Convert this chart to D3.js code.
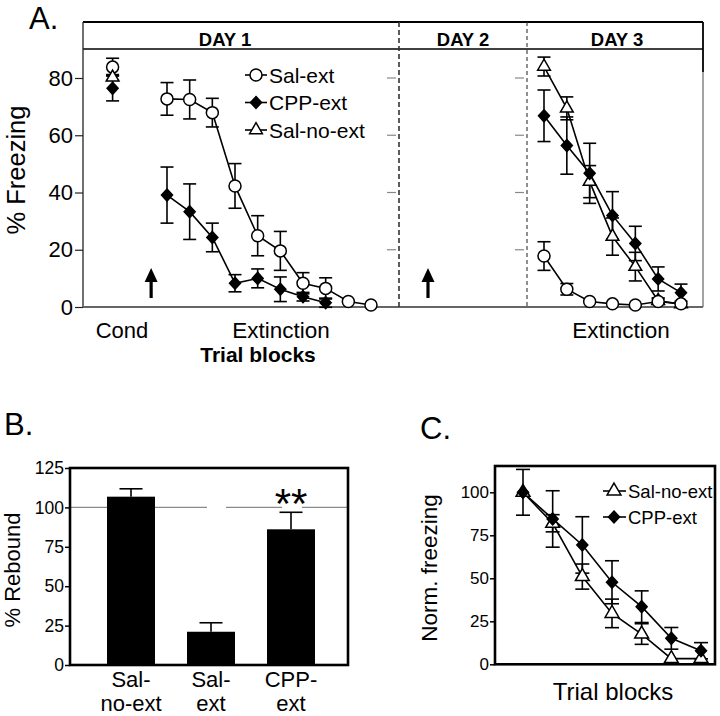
<!DOCTYPE html>
<html><head><meta charset="utf-8">
<script src="https://cdn.jsdelivr.net/npm/d3@7"></script>
<style>body{margin:0;background:#fff}svg{display:block;font-family:"Liberation Sans",Arial,Helvetica,sans-serif}</style>
</head><body><svg id="c" width="720" height="716"></svg>
<script>
// ---------------- DATA ----------------
// Panel A
const dayLabels = ["DAY 1", "DAY 2", "DAY 3"];
const yTicksA = [0, 20, 40, 60, 80];
const condSeries = ["Sal-ext", "CPP-ext", "Sal-no-ext"];
const condMean = [83.8, 76.4, 80.2];
const condSem = [3.1, 4.4, 1.0];
const day1Blocks = [1, 2, 3, 4, 5, 6, 7, 8, 9, 10];
const day1SalExt = [72.7, 72.5, 67.9, 42.3, 24.9, 19.6, 8.3, 6.5, 1.9, 0.7];
const day1SalExtSem = [5.7, 6.8, 5.0, 7.8, 7.0, 6.8, 3.7, 3.7, 0, 0];
const day1CppExt = [39.1, 33.3, 24.3, 8.3, 10.0, 6.2, 3.6, 1.5];
const day1CppExtSem = [9.8, 9.7, 5.0, 3.0, 3.3, 4.3, 1.5, 1.6];
const day3Blocks = [1, 2, 3, 4, 5, 6, 7];
const day3SalExt = [17.8, 6.2, 1.9, 1.1, 0.7, 1.9, 1.1];
const day3SalExtSem = [5.0, 2.0, 0, 0, 0, 1.0, 0];
const day3CppExt = [66.8, 56.4, 46.7, 32.0, 22.2, 9.8, 5.0];
const day3CppExtSem = [9.0, 10.0, 10.5, 8.3, 6.0, 4.2, 3.0];
const day3SalNoExt = [84.0, 69.4, 43.8, 24.6, 14.1, 2.2, 1.0];
const day3SalNoExtSem = [3.3, 4.0, 5.6, 6.5, 5.0, 1.0, 0];
// Panel B
const groupsB = ["Sal-\nno-ext", "Sal-\next", "CPP-\next"];
const reboundMean = [106.8, 21.1, 86.1];
const reboundSem = [5.0, 5.7, 10.8];
const yTicksB = [0, 25, 50, 75, 100, 125];
// Panel C
const blocksC = [1, 2, 3, 4, 5, 6, 7];
const normSalNoExt = [100, 82, 51, 29.6, 17.6, 3.3, 3.3];
const normSalNoExtSem = [13.3, 5.0, 7.3, 8.3, 6.0, 0, 0];
const normCppExt = [100, 84.5, 69.4, 47.7, 33.5, 15.1, 7.9];
const normCppExtSem = [0, 16.4, 16.4, 12.5, 9.2, 6.3, 4.7];
const yTicksC = [0, 25, 50, 75, 100];

// ---------------- HELPERS ----------------
const svg = d3.select("#c");
const shapes = {
  circle: (s) => { const r = s; return `M${-r},0a${r},${r} 0 1,0 ${2*r},0a${r},${r} 0 1,0 ${-2*r},0Z`; },
  diamond: (s) => `M0,${-s}L${s*0.92},0L0,${s}L${-s*0.92},0Z`,
  triangle: (s) => { const h = s*1.9, w = s*2.2; return `M0,${-h*2/3}L${w/2},${h/3}L${-w/2},${h/3}Z`; }
};
const fills = { circle: "#fff", diamond: "#000", triangle: "#fff" };

function drawSeries(g, xs, ys, sems, x, y, shape, size, cap, connect = true) {
  const pts = xs.map((d, i) => ({ x: x(d), y: y(ys[i]), lo: y(ys[i] - sems[i]), hi: y(ys[i] + sems[i]), s: sems[i] }));
  if (connect) g.append("path").attr("d", d3.line().x(d => d.x).y(d => d.y)(pts))
    .attr("fill", "none").attr("stroke", "#000").attr("stroke-width", 1.6);
  const eb = g.append("g").attr("stroke", "#000").attr("stroke-width", 1.6);
  pts.filter(d => d.s > 0.4).forEach(d => {
    eb.append("line").attr("x1", d.x).attr("x2", d.x).attr("y1", d.lo).attr("y2", d.hi);
    eb.append("line").attr("x1", d.x - cap).attr("x2", d.x + cap).attr("y1", d.hi).attr("y2", d.hi);
    eb.append("line").attr("x1", d.x - cap).attr("x2", d.x + cap).attr("y1", d.lo).attr("y2", d.lo);
  });
  return pts;
}
function drawMarkers(g, pts, shape, size) {
  g.selectAll(null).data(pts).enter().append("path")
    .attr("d", shapes[shape](size)).attr("transform", d => `translate(${d.x},${d.y})`)
    .attr("fill", fills[shape]).attr("stroke", "#000").attr("stroke-width", 1.5);
}

// ---------------- PANEL A ----------------
const A = { left: 83, right: 703, top: 22, head: 49, base: 307, div1: 399, div2: 527 };
const yA = d3.scaleLinear().domain([0, 80]).range([A.base, 78]);
const xA1 = d3.scaleLinear().domain([1, 10]).range([167, 371]);
const xA3 = d3.scaleLinear().domain([1, 7]).range([544, 681]);
const condBlock = -1.4;
const gA = svg.append("g");

svg.append("text").attr("x", 29).attr("y", 29).attr("font-size", 31).text("A.");

// header box
gA.append("line").attr("x1", A.left).attr("x2", A.right).attr("y1", A.top).attr("y2", A.top).attr("stroke", "#000").attr("stroke-width", 2.2);
gA.append("line").attr("x1", A.left).attr("x2", A.right).attr("y1", A.head).attr("y2", A.head).attr("stroke", "#000").attr("stroke-width", 1.5);
gA.append("line").attr("x1", A.left).attr("x2", A.left).attr("y1", A.top).attr("y2", A.base).attr("stroke", "#222").attr("stroke-width", 1.3);
gA.append("line").attr("x1", A.right).attr("x2", A.right).attr("y1", A.top).attr("y2", 72).attr("stroke", "#000").attr("stroke-width", 1.8);
gA.append("line").attr("x1", A.right).attr("x2", A.right).attr("y1", 72).attr("y2", A.base).attr("stroke", "#999").attr("stroke-width", 1.8);
gA.append("line").attr("x1", A.left).attr("x2", A.right).attr("y1", A.base).attr("y2", A.base).attr("stroke", "#666").attr("stroke-width", 1.8);
// dividers
gA.append("line").attr("x1", A.div1).attr("x2", A.div1).attr("y1", A.top).attr("y2", A.base).attr("stroke", "#333").attr("stroke-width", 1.6).attr("stroke-dasharray", "5,3");
gA.append("line").attr("x1", A.div2).attr("x2", A.div2).attr("y1", A.top).attr("y2", A.base).attr("stroke", "#333").attr("stroke-width", 1.1).attr("stroke-dasharray", "4,3");
// day headers
const dayCenters = [225, (A.div1 + A.div2) / 2, (A.div2 + A.right) / 2 + 2];
dayLabels.forEach((t, i) => gA.append("text").attr("x", dayCenters[i]).attr("y", 45.5).attr("text-anchor", "middle")
  .attr("font-size", 18.5).attr("font-weight", "bold").text(t));
// y axis
const axA = gA.append("g").attr("transform", `translate(${A.left},0)`)
  .call(d3.axisLeft(yA).tickValues(yTicksA).tickSize(8).tickPadding(2).tickFormat(d3.format("d")));
axA.select(".domain").remove();
axA.selectAll("text").attr("font-size", 22).attr("font-family", "Liberation Sans, Arial, sans-serif").attr("fill", "#000");
axA.selectAll("line").attr("stroke", "#222").attr("stroke-width", 1.2);
// ghost ticks at dividers
[A.div1, A.div2].forEach(xd => {
  gA.selectAll(null).data(yTicksA.filter(v => v > 0)).enter().append("line")
    .attr("x1", xd - 12).attr("x2", xd - 3).attr("y1", d => yA(d)).attr("y2", d => yA(d))
    .attr("stroke", "#888").attr("stroke-width", 1.2);
});
// y label
svg.append("text").attr("transform", `translate(25,170) rotate(-90)`).attr("text-anchor", "middle")
  .attr("font-size", 25.5).text("% Freezing");
// x texts
svg.append("text").attr("x", 122).attr("y", 338).attr("text-anchor", "middle").attr("font-size", 22).text("Cond");
svg.append("text").attr("x", 281).attr("y", 338).attr("text-anchor", "middle").attr("font-size", 22.5).text("Extinction");
svg.append("text").attr("x", 621).attr("y", 338).attr("text-anchor", "middle").attr("font-size", 22.5).text("Extinction");
svg.append("text").attr("x", 258).attr("y", 362).attr("text-anchor", "middle").attr("font-size", 21).attr("font-weight", "bold").text("Trial blocks");
// arrows
[xA1(0.3), 428].forEach(ax => {
  gA.append("line").attr("x1", ax).attr("x2", ax).attr("y1", 298).attr("y2", 278).attr("stroke", "#000").attr("stroke-width", 3.2);
  gA.append("path").attr("d", `M${ax},268L${ax + 6.5},282L${ax - 6.5},282Z`).attr("fill", "#000");
});
// data
const condX = [xA1(condBlock), xA1(condBlock), xA1(condBlock)];
const idX = v => v;
const condShapes = ["circle", "diamond", "triangle"];
const condPts = condMean.map((m, i) => drawSeries(gA, [condX[i]], [m], [condSem[i]], idX, yA, condShapes[i], 6, 6.5, false));
const p1s = drawSeries(gA, day1Blocks, day1SalExt, day1SalExtSem, xA1, yA, "circle", 6, 6.5);
const p1c = drawSeries(gA, day1Blocks.slice(0, day1CppExt.length), day1CppExt, day1CppExtSem, xA1, yA, "diamond", 6, 6.5);
const p3n = drawSeries(gA, day3Blocks, day3SalNoExt, day3SalNoExtSem, xA3, yA, "triangle", 6, 6.5);
const p3c = drawSeries(gA, day3Blocks, day3CppExt, day3CppExtSem, xA3, yA, "diamond", 6, 6.5);
const p3s = drawSeries(gA, day3Blocks, day3SalExt, day3SalExtSem, xA3, yA, "circle", 6, 6.5);
drawMarkers(gA, condPts[0], "circle", 6);
drawMarkers(gA, condPts[2], "triangle", 5.8);
drawMarkers(gA, condPts[1], "diamond", 6);
drawMarkers(gA, p1c, "diamond", 6);
drawMarkers(gA, p1s, "circle", 6);
drawMarkers(gA, p3n, "triangle", 5.8);
drawMarkers(gA, p3c, "diamond", 6);
drawMarkers(gA, p3s, "circle", 6);
// legend A
const legA = [["circle", "Sal-ext"], ["diamond", "CPP-ext"], ["triangle", "Sal-no-ext"]];
legA.forEach((l, i) => {
  const ly = 75 + i * 27.5;
  gA.append("line").attr("x1", 245).attr("x2", 267).attr("y1", ly).attr("y2", ly).attr("stroke", "#000").attr("stroke-width", 1.6);
  drawMarkers(gA, [{ x: 256, y: ly }], l[0], l[0] === "triangle" ? 5.8 : 6);
  gA.append("text").attr("x", 269).attr("y", ly + 7.5).attr("font-size", 21).text(l[1]);
});

// ---------------- PANEL B ----------------
const B = { left: 70, right: 348, top: 468, base: 665 };
const yB = d3.scaleLinear().domain([0, 125]).range([B.base, B.top]);
const xB = d3.scaleBand().domain(groupsB).range([91, 331]).paddingInner(0.4).paddingOuter(0.2);
const gB = svg.append("g");
svg.append("text").attr("x", 4).attr("y", 435).attr("font-size", 31).text("B.");
// reference line at 100 (with gaps)
const refSegs = [[B.left, 207], [226, 282], [302, B.right]];
refSegs.forEach(s => gB.append("line").attr("x1", s[0]).attr("x2", s[1]).attr("y1", yB(100)).attr("y2", yB(100)).attr("stroke", "#8a8a8a").attr("stroke-width", 1.2));
gB.selectAll(null).data(groupsB).enter().append("rect")
  .attr("x", d => xB(d)).attr("width", xB.bandwidth())
  .attr("y", (d, i) => yB(reboundMean[i])).attr("height", (d, i) => B.base - yB(reboundMean[i])).attr("fill", "#000");
groupsB.forEach((g, i) => {
  const cx = xB(g) + xB.bandwidth() / 2;
  gB.append("line").attr("x1", cx).attr("x2", cx).attr("y1", yB(reboundMean[i])).attr("y2", yB(reboundMean[i] + reboundSem[i])).attr("stroke", "#000").attr("stroke-width", 1.6);
  gB.append("line").attr("x1", cx - 11.5).attr("x2", cx + 11.5).attr("y1", yB(reboundMean[i] + reboundSem[i])).attr("y2", yB(reboundMean[i] + reboundSem[i])).attr("stroke", "#000").attr("stroke-width", 1.6);
  g.split("\n").forEach((t, k) => gB.append("text").attr("x", cx).attr("y", 687 + k * 24).attr("text-anchor", "middle").attr("font-size", 22).text(t));
});
gB.append("rect").attr("x", B.left).attr("y", B.top).attr("width", B.right - B.left).attr("height", B.base - B.top)
  .attr("fill", "none").attr("stroke", "#000").attr("stroke-width", 2.6);
const axB = gB.append("g").attr("transform", `translate(${B.left},0)`)
  .call(d3.axisLeft(yB).tickValues(yTicksB).tickSize(5).tickPadding(1));
axB.select(".domain").remove();
axB.selectAll("text").attr("font-size", 17.5).attr("font-family", "Liberation Sans, Arial, sans-serif").attr("fill", "#000");
axB.selectAll("line").attr("stroke", "#000").attr("stroke-width", 1.5);
gB.append("text").attr("x", xB(groupsB[2]) + xB.bandwidth() / 2).attr("y", 518).attr("text-anchor", "middle").attr("font-size", 42).text("**");
svg.append("text").attr("transform", `translate(20,570) rotate(-90)`).attr("text-anchor", "middle").attr("font-size", 22).text("% Rebound");

// ---------------- PANEL C ----------------
const C = { left: 495, right: 715, top: 466, base: 664.3 };
const yC = d3.scaleLinear().domain([0, 100]).range([C.base, 492.3]);
const xC = d3.scaleLinear().domain([1, 7]).range([523, 701]);
const gC = svg.append("g");
svg.append("text").attr("x", 420).attr("y", 439).attr("font-size", 31).text("C.");
const pcn = drawSeries(gC, blocksC, normSalNoExt, normSalNoExtSem, xC, yC, "triangle", 6.5, 7);
const pcc = drawSeries(gC, blocksC, normCppExt, normCppExtSem, xC, yC, "diamond", 6, 7);
drawMarkers(gC, pcn, "triangle", 6.3);
drawMarkers(gC, pcc, "diamond", 6);
gC.append("rect").attr("x", C.left).attr("y", C.top).attr("width", C.right - C.left).attr("height", C.base - C.top)
  .attr("fill", "none").attr("stroke", "#000").attr("stroke-width", 2.6);
const axC = gC.append("g").attr("transform", `translate(${C.left},0)`)
  .call(d3.axisLeft(yC).tickValues(yTicksC).tickSize(5).tickPadding(1));
axC.select(".domain").remove();
axC.selectAll("text").attr("font-size", 17).attr("font-family", "Liberation Sans, Arial, sans-serif").attr("fill", "#000");
axC.selectAll("line").attr("stroke", "#000").attr("stroke-width", 1.5);
const legC = [["triangle", "Sal-no-ext"], ["diamond", "CPP-ext"]];
legC.forEach((l, i) => {
  const ly = 491 + i * 26;
  gC.append("line").attr("x1", 603).attr("x2", 626).attr("y1", ly).attr("y2", ly).attr("stroke", "#000").attr("stroke-width", 1.6);
  drawMarkers(gC, [{ x: 614, y: ly }], l[0], l[0] === "triangle" ? 6.3 : 6);
  gC.append("text").attr("x", 628).attr("y", ly + 7).attr("font-size", 18.5).text(l[1]);
});
svg.append("text").attr("transform", `translate(437,568) rotate(-90)`).attr("text-anchor", "middle").attr("font-size", 22.5).text("Norm. freezing");
svg.append("text").attr("x", 613).attr("y", 700).attr("text-anchor", "middle").attr("font-size", 24).text("Trial blocks");
</script></body></html>
